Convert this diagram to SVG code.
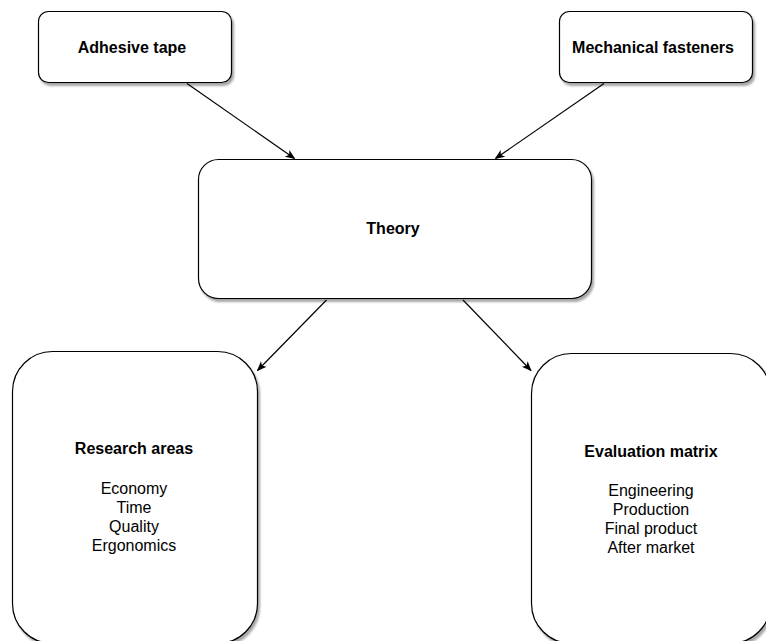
<svg xmlns="http://www.w3.org/2000/svg" width="766" height="641" viewBox="0 0 766 641">
  <style>
    .box { fill: #ffffff; stroke: #000000; stroke-width: 1.2; filter: url(#shadow); }
    .title { font-family: "Liberation Sans", Arial, sans-serif; font-size: 16px; font-weight: bold; fill: #000000; text-anchor: middle; }
    .item { font-family: "Liberation Sans", Arial, sans-serif; font-size: 16px; fill: #000000; text-anchor: middle; }
    .edge { fill: none; stroke: #000000; stroke-width: 1.2; marker-end: url(#arrow); }
  </style>
  <defs>
    <filter id="shadow" x="-10%" y="-10%" width="125%" height="125%">
      <feGaussianBlur in="SourceAlpha" stdDeviation="1.2"/>
      <feOffset dx="2" dy="2.5" result="off"/>
      <feComponentTransfer><feFuncA type="linear" slope="0.35"/></feComponentTransfer>
      <feMerge><feMergeNode/><feMergeNode in="SourceGraphic"/></feMerge>
    </filter>
    <marker id="arrow" viewBox="0 0 10 10" refX="9" refY="5" markerWidth="10" markerHeight="10" markerUnits="userSpaceOnUse" orient="auto">
      <path d="M0,1 L10,5 L0,9 L2.5,5 Z" fill="#000000"/>
    </marker>
  </defs>

  <g id="connectors">
    <line class="edge" x1="187" y1="83.5" x2="294.5" y2="158.5"/>
    <line class="edge" x1="604" y1="83.5" x2="495.5" y2="158.5"/>
    <line class="edge" x1="326.5" y1="300" x2="257.5" y2="370.5"/>
    <line class="edge" x1="463" y1="300" x2="531" y2="370.5"/>
  </g>

  <g id="adhesive-tape">
    <rect class="box" x="38.5" y="11.5" width="193" height="71" rx="10" ry="10"/>
    <text class="title" x="132" y="52.5">Adhesive tape</text>
  </g>

  <g id="mechanical-fasteners">
    <rect class="box" x="559.5" y="11.5" width="193" height="71" rx="10" ry="10"/>
    <text class="title" x="653" y="52.5">Mechanical fasteners</text>
  </g>

  <g id="theory">
    <rect class="box" x="198.5" y="159.5" width="393" height="139" rx="20" ry="20"/>
    <text class="title" x="393" y="234">Theory</text>
  </g>

  <g id="research-areas">
    <rect class="box" x="12.5" y="351.5" width="245" height="292" rx="40" ry="40"/>
    <text class="title" x="134" y="454">Research areas</text>
    <text class="item" x="134" y="493.5">Economy</text>
    <text class="item" x="134" y="512.5">Time</text>
    <text class="item" x="134" y="531.5">Quality</text>
    <text class="item" x="134" y="550.5">Ergonomics</text>
  </g>

  <g id="evaluation-matrix">
    <rect class="box" x="531.5" y="353.5" width="239" height="290" rx="40" ry="40"/>
    <text class="title" x="651" y="456.5">Evaluation matrix</text>
    <text class="item" x="651" y="495.5">Engineering</text>
    <text class="item" x="651" y="514.5">Production</text>
    <text class="item" x="651" y="533.5">Final product</text>
    <text class="item" x="651" y="552.5">After market</text>
  </g>
</svg>
